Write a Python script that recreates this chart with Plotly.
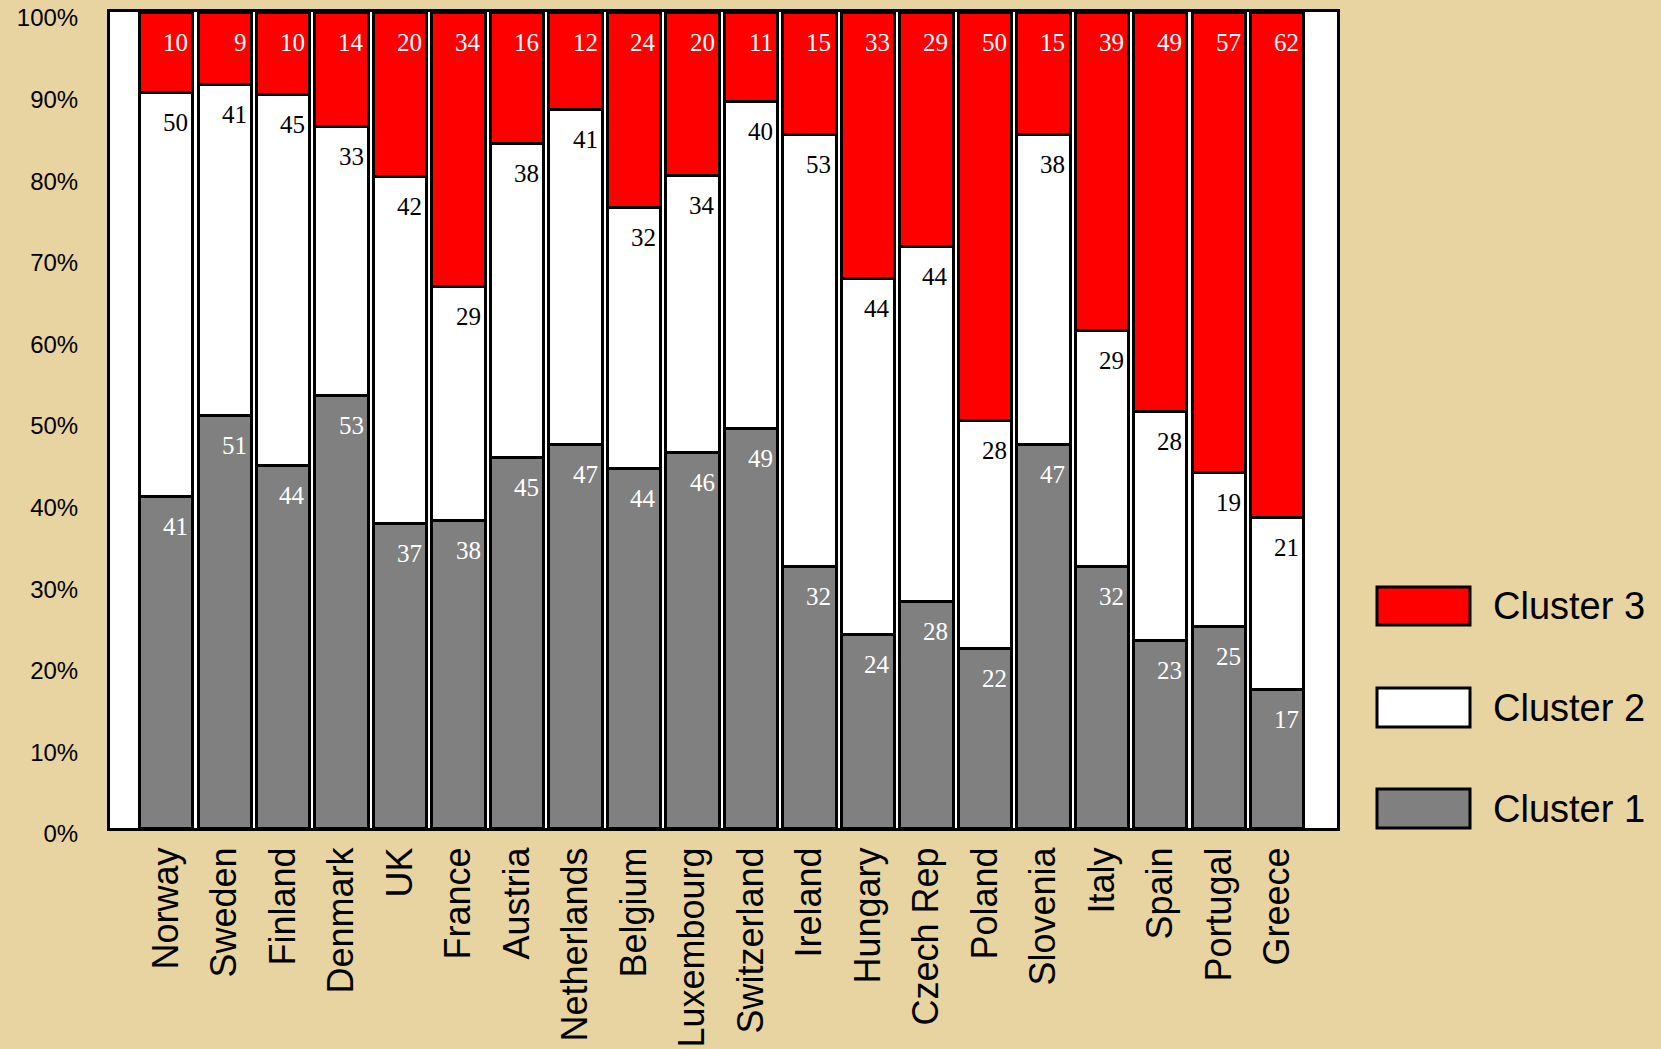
import plotly.graph_objects as go

countries = ["Norway", "Sweden", "Finland", "Denmark", "UK", "France", "Austria",
             "Netherlands", "Belgium", "Luxembourg", "Switzerland", "Ireland",
             "Hungary", "Czech Rep", "Poland", "Slovenia", "Italy", "Spain",
             "Portugal", "Greece"]
cluster1 = [41, 51, 44, 53, 37, 38, 45, 47, 44, 46, 49, 32, 24, 28, 22, 47, 32, 23, 25, 17]
cluster2 = [50, 41, 45, 33, 42, 29, 38, 41, 32, 34, 40, 53, 44, 44, 28, 38, 29, 28, 19, 21]
cluster3 = [10, 9, 10, 14, 20, 34, 16, 12, 24, 20, 11, 15, 33, 29, 50, 15, 39, 49, 57, 62]

series_names = ["Cluster 1", "Cluster 2", "Cluster 3"]
series_vals = [cluster1, cluster2, cluster3]
series_colors = ["#808080", "#FFFFFF", "#FF0000"]
label_colors = ["white", "black", "white"]

W, H = 1661, 1049
ML, MR, MT, MB = 110, 324, 12, 221
PW, PH = W - ML - MR, H - MT - MB

def px_x(px):
    return (px - ML) / PW

def px_y(py):
    return 1 - (py - MT) / PH

x_idx = list(range(len(countries)))
totals = [sum(v) for v in zip(*series_vals)]
pcts = [[v / t * 100 for v, t in zip(vals, totals)] for vals in series_vals]

fig = go.Figure()
for name, p, col in zip(series_names, pcts, series_colors):
    fig.add_trace(go.Bar(
        x=x_idx, y=p, name=name,
        marker=dict(color=col, line=dict(color="black", width=3)),
        showlegend=False, hoverinfo="skip",
    ))

annotations = []
cum = [0.0] * len(countries)
for vals, p, tc in zip(series_vals, pcts, label_colors):
    for i in x_idx:
        cum[i] += p[i]
        annotations.append(dict(
            x=i, y=min(round(cum[i], 6), 100), xref="x", yref="y", text=str(vals[i]),
            showarrow=False, xanchor="right", yanchor="middle",
            xshift=24, yshift=-30,
            font=dict(family="Liberation Serif, Times New Roman, serif", size=25, color=tc),
        ))

# custom legend (large swatches)
shapes = []
legend_rows = [("Cluster 3", "#FF0000", 587, 625),
               ("Cluster 2", "#FFFFFF", 688, 727),
               ("Cluster 1", "#808080", 789, 828)]
for lbl, col, y0, y1 in legend_rows:
    shapes.append(dict(type="rect", xref="paper", yref="paper",
                       x0=px_x(1377), x1=px_x(1470), y0=px_y(y1), y1=px_y(y0),
                       fillcolor=col, line=dict(color="black", width=3)))
    annotations.append(dict(x=px_x(1491), y=px_y((y0 + y1) / 2), xref="paper", yref="paper",
                            text=lbl, showarrow=False, xanchor="left", yanchor="middle",
                            font=dict(family="Liberation Sans, Arial, sans-serif", size=38, color="black")))

fig.update_layout(
    width=W, height=H,
    margin=dict(l=ML, r=MR, t=MT, b=MB, pad=0, autoexpand=False),
    paper_bgcolor="#E8D4A0",
    plot_bgcolor="#FFFFFF",
    barmode="stack",
    bargap=0.09,
    annotations=annotations,
    shapes=shapes,
    xaxis=dict(
        range=[-0.96, 20.02], tickmode="array", tickvals=x_idx, ticktext=countries,
        tickangle=-90, showgrid=False, zeroline=False, automargin=False,
        showline=True, linecolor="black", linewidth=3, mirror=True, ticks="", ticklen=0,
        ticklabelstandoff=2, ticklabeloverflow="allow",
        tickfont=dict(family="Liberation Sans, Arial, sans-serif", size=36, color="black"),
    ),
    yaxis=dict(
        range=[0, 100], tickmode="array", tickvals=list(range(0, 101, 10)),
        ticktext=[f"{v}%" for v in range(0, 101, 10)],
        showgrid=False, zeroline=False, automargin=False,
        showline=True, linecolor="black", linewidth=3, mirror=True, ticks="", ticklen=0,
        ticklabelstandoff=24, ticklabeloverflow="allow", ticklabelshift=6,
        tickfont=dict(family="Liberation Sans, Arial, sans-serif", size=24, color="black"),
    ),
)

fig.write_html("out.html")
